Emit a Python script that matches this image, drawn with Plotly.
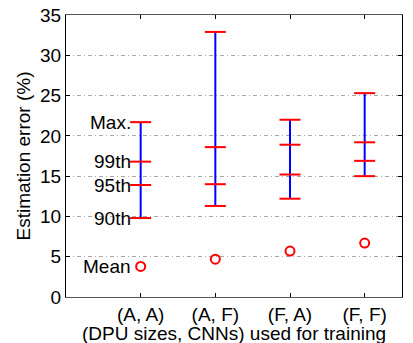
import plotly.graph_objects as go

categories = ["(A, A)", "(A, F)", "(F, A)", "(F, F)"]
p90 = [9.8, 11.3, 12.2, 15.0]
p95 = [13.9, 14.0, 15.2, 16.9]
p99 = [16.8, 18.6, 18.9, 19.2]
pmax = [21.7, 32.9, 22.0, 25.3]
means = [3.8, 4.7, 5.7, 6.7]
label_names = ["Max.", "99th", "95th", "90th", "Mean"]
x_title = "(DPU sizes, CNNs) used for training"
y_title = "Estimation error (%)"

xpos = [i + 1 for i in range(len(categories))]
FONT = "Liberation Sans, Arial, sans-serif"
FS = 19

fig = go.Figure()
for x, lo, hi in zip(xpos, p90, pmax):
    fig.add_trace(go.Scatter(x=[x, x], y=[lo, hi], mode="lines",
                             line=dict(color="#0000ff", width=2), showlegend=False,
                             hoverinfo="skip"))
for arr in (p90, p95, p99, pmax):
    fig.add_trace(go.Scatter(x=xpos, y=arr, mode="markers",
                             marker=dict(symbol="line-ew", size=15, color="red",
                                         line=dict(color="red", width=2)),
                             showlegend=False))
fig.add_trace(go.Scatter(x=xpos, y=means, mode="markers",
                         marker=dict(symbol="circle-open", size=9, color="red",
                                     line=dict(color="red", width=2)),
                         showlegend=False))

label_vals = [pmax[0], p99[0], p95[0], p90[0], means[0]]
for name, v in zip(label_names, label_vals):
    fig.add_annotation(x=xpos[0], y=v, xref="x", yref="y", text=name,
                       showarrow=False, xanchor="right", xshift=-8,
                       font=dict(family=FONT, size=FS, color="black"))

fig.add_annotation(x=0.5, y=0, xref="paper", yref="paper", text=x_title,
                   showarrow=False, xanchor="center", yanchor="middle", yshift=-36,
                   font=dict(family=FONT, size=FS, color="black"))

fig.update_layout(
    width=413, height=343,
    margin=dict(l=66, r=11, t=15, b=46),
    paper_bgcolor="white", plot_bgcolor="white",
    font=dict(family=FONT, size=FS, color="black"),
    showlegend=False,
)
fig.update_xaxes(range=[0, 4.5], tickvals=xpos, ticktext=categories,
                 showgrid=False, zeroline=False, automargin=False,
                 showline=True, linecolor="#555555", linewidth=1, mirror="ticks",
                 ticks="inside", ticklen=4, tickcolor="black",
                 tickfont=dict(size=FS))
fig.update_yaxes(range=[0, 35], tickvals=[0, 5, 10, 15, 20, 25, 30, 35],
                 showgrid=True, gridcolor="#a8a8a8", griddash="4px,3px,1px,3px", gridwidth=1,
                 zeroline=False, automargin=False,
                 showline=True, linecolor="black", linewidth=1, mirror="ticks",
                 ticks="inside", ticklen=4, tickcolor="black",
                 title=dict(text=y_title, standoff=4, font=dict(size=FS)),
                 tickfont=dict(size=FS))

fig.write_html("out.html")
